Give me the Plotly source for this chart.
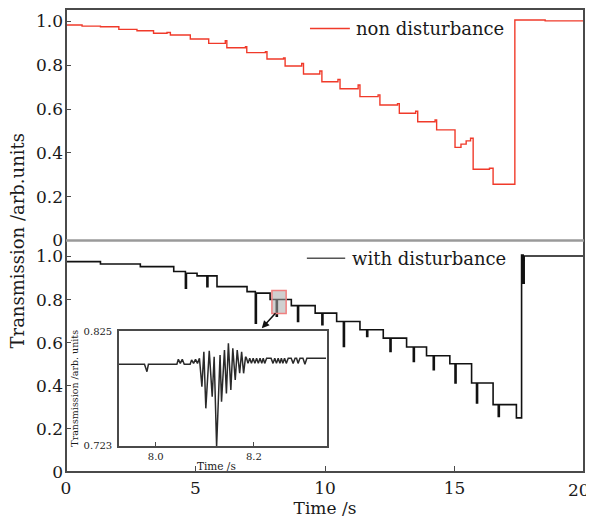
import plotly.graph_objects as go

# ---------------- data ----------------
# top panel: non disturbance (step curve)
red_t = [0, 0.62, 1.33, 2.04, 2.74, 3.38, 3.90, 4.03, 4.80, 5.51, 6.15, 6.21, 6.93, 6.98,
         7.70, 7.76, 8.40, 8.46, 9.10, 9.17, 9.80, 9.88, 10.50, 10.58, 11.28, 11.35,
         12.05, 12.12, 12.80, 12.87, 13.50, 13.58, 14.25, 14.31, 15.02, 15.25, 15.45,
         15.62, 15.72, 16.35, 16.49, 17.33, 18.5, 20]
red_v = [0.984, 0.979, 0.976, 0.964, 0.958, 0.946, 0.950, 0.938, 0.920, 0.900, 0.912, 0.880,
         0.885, 0.858, 0.862, 0.829, 0.833, 0.797, 0.808, 0.760, 0.774, 0.725, 0.735, 0.693,
         0.710, 0.657, 0.665, 0.619, 0.625, 0.581, 0.590, 0.542, 0.550, 0.505, 0.425, 0.440,
         0.455, 0.467, 0.325, 0.330, 0.257, 1.007, 1.003, 0.998]

# bottom panel: with disturbance (step curve with dips)
black_t = [0, 1.33, 2.87, 4.16, 4.61, 4.65, 5.06, 5.44, 5.48, 5.83, 6.99, 7.31, 7.35, 7.88,
           8.12, 8.16, 8.70, 8.94, 8.98, 9.62, 9.88, 9.92, 10.45, 10.71, 10.75, 11.35,
           11.61, 11.65, 12.25, 12.51, 12.55, 13.15, 13.41, 13.45, 13.92, 14.18, 14.22,
           14.82, 15.02, 15.06, 15.66, 15.85, 15.89, 16.49, 16.69, 16.73, 17.39, 17.59,
           17.65, 17.69, 20]
black_v = [0.976, 0.965, 0.953, 0.930, 0.853, 0.922, 0.910, 0.860, 0.910, 0.860, 0.837, 0.690,
           0.830, 0.800, 0.723, 0.800, 0.772, 0.698, 0.772, 0.737, 0.683, 0.737, 0.698, 0.582,
           0.698, 0.660, 0.629, 0.660, 0.621, 0.559, 0.621, 0.580, 0.513, 0.580, 0.539,
           0.475, 0.539, 0.502, 0.413, 0.502, 0.413, 0.320, 0.413, 0.3125, 0.258, 0.3125,
           0.251, 1.007, 0.876, 1.002, 0.999]

# inset: detail around 8.1 s
inset_t = [7.924, 7.977, 7.982, 7.985, 8.043, 8.046, 8.050, 8.054, 8.058, 8.070, 8.073, 8.077,
           8.081, 8.085, 8.089, 8.094, 8.098, 8.102, 8.109, 8.115, 8.119, 8.124, 8.131, 8.134,
           8.140, 8.144, 8.148, 8.153, 8.157, 8.162, 8.166, 8.171, 8.175, 8.179, 8.183,
           8.185, 8.188, 8.1915, 8.195, 8.1985, 8.202, 8.2055, 8.209, 8.2125, 8.216, 8.219,
           8.222, 8.226, 8.235, 8.239, 8.2425, 8.246, 8.2495, 8.253, 8.256, 8.259, 8.2625,
           8.266, 8.270, 8.276, 8.280, 8.284, 8.287, 8.290, 8.294, 8.300, 8.304, 8.308, 8.347]
inset_v = [0.7955, 0.7955, 0.7889, 0.7955, 0.7955, 0.7999, 0.7963, 0.7999, 0.7955, 0.7955,
           0.7993, 0.7963, 0.7999, 0.7963, 0.8008, 0.7756, 0.8066, 0.7564, 0.8075, 0.7667,
           0.8022, 0.7224, 0.8037, 0.7623, 0.8081, 0.7697, 0.8141, 0.7727, 0.8096, 0.7815,
           0.8081, 0.7875, 0.8066, 0.7875, 0.8022,
           0.8008, 0.7963, 0.8008, 0.7963, 0.8008, 0.7963, 0.8008, 0.7963, 0.8008, 0.7963,
           0.8008, 0.7963, 0.8008, 0.8008, 0.7963, 0.8008, 0.7963, 0.8008, 0.7963, 0.8008,
           0.7963, 0.8008, 0.7963, 0.8008, 0.8008, 0.7963, 0.8008, 0.8008, 0.7963, 0.8008,
           0.8008, 0.7955, 0.8008, 0.8008]

main_xticks = [0, 5, 10, 15, 20]
main_xtext = ["0", "5", "10", "15", "20"]
main_yticks = [0, 0.2, 0.4, 0.6, 0.8, 1.0]
main_ytext = ["0", "0.2", "0.4", "0.6", "0.8", "1.0"]
inset_xticks = [8.0, 8.2]
inset_yticks = [0.723, 0.825]
legend_names = ["non disturbance", "with disturbance"]

FONT = "DejaVu Serif"
TXT = "#1a1a1a"
FRAME = "#4a4a4a"
RED = "#f03a2a"

fig = go.Figure()
fig.add_trace(go.Scatter(x=red_t, y=red_v, mode="lines", line=dict(color=RED, width=1.4, shape="hv"),
                         name=legend_names[0], xaxis="x", yaxis="y"))
fig.add_trace(go.Scatter(x=black_t, y=black_v, mode="lines", line=dict(color="#111111", width=1.6, shape="hv"),
                         name=legend_names[1], xaxis="x2", yaxis="y2"))
fig.add_trace(go.Scatter(x=inset_t, y=inset_v, mode="lines", line=dict(color="#2a2a2a", width=1.5),
                         xaxis="x3", yaxis="y3"))

axfont = dict(family=FONT, size=17, color=TXT)
common = dict(showgrid=False, zeroline=False, automargin=False)
# the page body adds an 8 px offset, so the figure is 8 px smaller than the window
fig.update_layout(
    width=586, height=514,
    margin=dict(l=58, r=10, t=1, b=50, autoexpand=False),
    paper_bgcolor="white", plot_bgcolor="white",
    font=dict(family=FONT, color=TXT),
    showlegend=False,
    xaxis=dict(domain=[0, 1], anchor="y", range=[0, 20], showticklabels=False, ticks="",
               showline=False, **common),
    yaxis=dict(domain=[0.5, 1], anchor="x", range=[0, 1.057], tickvals=main_yticks, ticktext=main_ytext,
               ticks="inside", ticklen=5, tickcolor=FRAME, tickfont=axfont, showline=False,
               ticklabelstandoff=2, **common),
    xaxis2=dict(domain=[0, 1], anchor="y2", range=[0, 20], tickvals=main_xticks[:-1],
                ticktext=main_xtext[:-1], ticks="inside",
                ticklen=6, tickcolor=FRAME, tickfont=axfont, showline=False,
                ticklabelstandoff=4,
                title=dict(text="Time /s", font=dict(family=FONT, size=17, color=TXT), standoff=4),
                **common),
    yaxis2=dict(domain=[0, 0.5], anchor="x2", range=[0, 1.074], tickvals=main_yticks, ticktext=main_ytext,
                ticks="inside", ticklen=5, tickcolor=FRAME, tickfont=axfont, showline=False,
                ticklabelstandoff=2, **common),
    xaxis3=dict(domain=[0.1023, 0.5029], anchor="y3", range=[7.925, 8.348], tickvals=inset_xticks,
                ticktext=["8.0", "8.2"], ticks="inside", ticklen=4, tickcolor=FRAME,
                tickfont=dict(family=FONT, size=10, color=TXT), showline=True, linecolor=FRAME,
                linewidth=1.5, mirror=True, **common),
    yaxis3=dict(domain=[0.0562, 0.3045], anchor="x3", range=[0.723, 0.825], tickvals=inset_yticks,
                ticktext=["0.723", "0.825"], ticks="", tickfont=dict(family=FONT, size=10, color=TXT),
                showline=True, linecolor=FRAME, linewidth=1.5, mirror=True, ticklabelstandoff=3,
                **common),
)

# last x tick (at the right frame) drawn as a text so it stays inside the window
fig.add_shape(type="line", xref="x2", yref="paper", x0=main_xticks[-1], x1=main_xticks[-1], y0=0, y1=0.013,
              line=dict(color=FRAME, width=1))
fig.add_annotation(text=main_xtext[-1], xref="paper", yref="paper", x=1.0154, y=-0.012, xanchor="right",
                   yanchor="top", showarrow=False, font=axfont)

# frame and separator
fig.add_shape(type="rect", xref="paper", yref="paper", x0=0, y0=0, x1=1, y1=1,
              line=dict(color=FRAME, width=2), layer="above")
fig.add_shape(type="line", xref="paper", yref="paper", x0=0, y0=0.5, x1=1, y1=0.5,
              line=dict(color="#9a9a9a", width=2.5), layer="above")
# highlighted region in main plot
fig.add_shape(type="rect", xref="x2", yref="y2", x0=7.95, x1=8.5, y0=0.735, y1=0.842,
              line=dict(color="#f08080", width=1.5), fillcolor="rgba(170,170,170,0.55)", layer="above")
fig.add_annotation(x=7.56, y=0.667, ax=8.14, ay=0.744, xref="x2", yref="y2", axref="x2", ayref="y2",
                   text="", showarrow=True, arrowhead=2, arrowsize=1, arrowwidth=1.5, arrowcolor="#111111")

# legends (line sample + label)
fig.add_shape(type="line", xref="paper", yref="paper", x0=0.471, x1=0.548, y0=0.958, y1=0.958,
              line=dict(color=RED, width=1.4))
fig.add_annotation(text=legend_names[0], xref="paper", yref="paper", x=0.556, y=0.958, xanchor="left",
                   yanchor="middle", showarrow=False, font=dict(family=FONT, size=18, color=TXT))
fig.add_shape(type="line", xref="paper", yref="paper", x0=0.465, x1=0.539, y0=0.4616, y1=0.4616,
              line=dict(color="#555555", width=1.4))
fig.add_annotation(text=legend_names[1], xref="paper", yref="paper", x=0.549, y=0.4616, xanchor="left",
                   yanchor="middle", showarrow=False, font=dict(family=FONT, size=18, color=TXT))

# main y title
fig.add_annotation(text="Transmission /arb.units", xref="paper", yref="paper", x=-0.0927, y=0.5,
                   xanchor="center", yanchor="middle",
                   textangle=-90, showarrow=False, font=dict(family=FONT, size=18, color=TXT))
# inset titles
fig.add_annotation(text="Transmission /arb. units", xref="paper", yref="paper", x=0.0174, y=0.180,
                   xanchor="center", yanchor="middle",
                   textangle=-90, showarrow=False, font=dict(family=FONT, size=9.5, color=TXT))
fig.add_annotation(text="Time /s", xref="paper", yref="paper", x=0.291, y=0.013,
                   xanchor="center", yanchor="middle",
                   showarrow=False, font=dict(family=FONT, size=10.5, color=TXT))

fig.write_html("out.html")
